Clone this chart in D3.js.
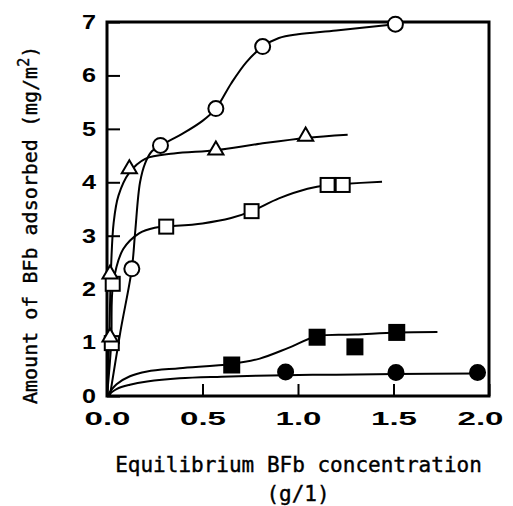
<!DOCTYPE html>
<html><head><meta charset="utf-8">
<script src="https://cdn.jsdelivr.net/npm/d3@7"></script>
<style>body{margin:0;background:#fff}svg{display:block}</style>
</head><body>
<svg id="c" width="513" height="506"></svg>
<script>
// ---- data ----
const xTicks = [0, 0.5, 1.0, 1.5, 2.0];
const yTicks = [0, 1, 2, 3, 4, 5, 6, 7];
const xTitle = "Equilibrium BFb concentration";
const xUnit = "(g/1)";
const yTitleMain = "Amount of BFb adsorbed  (mg/m";
const yTitleSup = "2";
const yTitleEnd = ")";

// markers [x, y]
const openCircles = [[0.13, 2.38], [0.28, 4.69], [0.57, 5.38], [0.815, 6.54], [1.51, 6.96]];
const openTriangles = [[0.016, 1.1], [0.016, 2.28], [0.117, 4.25], [0.57, 4.6], [1.04, 4.86]];
const openSquares = [[0.025, 0.99], [0.03, 2.1], [0.31, 3.17], [0.757, 3.46], [1.155, 3.95], [1.234, 3.95]];
const filledSquares = [[0.653, 0.58], [1.10, 1.10], [1.298, 0.92], [1.517, 1.19]];
const filledCircles = [[0.935, 0.45], [1.513, 0.44], [1.94, 0.44]];

// hand-drawn fit curves [x, y]
const openCircleFit = [[0.015, 0], [0.07, 1.2], [0.13, 2.38], [0.147, 3.05], [0.173, 4.0], [0.2, 4.36], [0.235, 4.58], [0.28, 4.69], [0.4, 4.92], [0.5, 5.15], [0.57, 5.38], [0.65, 5.85], [0.73, 6.25], [0.815, 6.54], [0.9, 6.7], [1.0, 6.77], [1.2, 6.84], [1.51, 6.96]];
const triangleFit = [[0, 0], [0.012, 1.1], [0.02, 2.28], [0.035, 3.25], [0.06, 3.75], [0.117, 4.18], [0.2, 4.44], [0.35, 4.54], [0.57, 4.6], [0.8, 4.72], [1.04, 4.83], [1.26, 4.89]];
const squareFit = [[0, 0], [0.022, 0.99], [0.032, 2.1], [0.085, 2.75], [0.17, 3.05], [0.25, 3.15], [0.31, 3.17], [0.5, 3.23], [0.65, 3.33], [0.757, 3.46], [0.9, 3.7], [1.05, 3.88], [1.155, 3.95], [1.234, 3.97], [1.44, 4.01]];
const filledSquareFit = [[0, 0], [0.05, 0.22], [0.12, 0.37], [0.21, 0.46], [0.38, 0.52], [0.653, 0.6], [0.8, 0.7], [0.95, 0.9], [1.10, 1.12], [1.3, 1.15], [1.517, 1.19], [1.73, 1.2]];
const filledCircleFit = [[0, 0], [0.05, 0.13], [0.12, 0.21], [0.21, 0.27], [0.38, 0.33], [0.6, 0.36], [0.935, 0.39], [1.2, 0.4], [1.513, 0.41], [1.94, 0.42]];

// ---- drawing ----
const svg = d3.select("#c");
const x = d3.scaleLinear().domain([0, 2]).range([107, 489]);
const y = d3.scaleLinear().domain([0, 7]).range([396, 22]);

const line = d3.line().x(d => x(d[0])).y(d => y(d[1])).curve(d3.curveCatmullRom.alpha(0.5));
const fits = [openCircleFit, triangleFit, squareFit, filledSquareFit, filledCircleFit];
svg.append("g").selectAll("path").data(fits).join("path")
  .attr("d", line).attr("fill", "none").attr("stroke", "#000").attr("stroke-width", 2);

// axes
const tickFont = "'Liberation Sans', Arial, sans-serif";
const gx = svg.append("g").attr("transform", "translate(0,396)")
  .call(d3.axisBottom(x).tickValues(xTicks).tickFormat(d3.format(".1f")).tickSize(-12).tickPadding(16));
const gy = svg.append("g").attr("transform", "translate(107,0)")
  .call(d3.axisLeft(y).tickValues(yTicks).tickFormat(d3.format("d")).tickSize(-13).tickPadding(11));
[gx, gy].forEach(g => {
  g.select(".domain").remove();
  g.selectAll("line").attr("stroke", "#000").attr("stroke-width", 2);
  g.selectAll("text").attr("fill", "#000").style("font-family", tickFont).style("font-weight", "bold");
});
gx.selectAll("text").style("font-size", "18px").attr("textLength", 46).attr("lengthAdjust", "spacingAndGlyphs")
  .attr("dx", d => d === 2 ? -9 : 0);
gy.selectAll("text").style("font-size", "20px").attr("textLength", 14).attr("lengthAdjust", "spacingAndGlyphs");

// frame
svg.append("rect").attr("x", x(0)).attr("y", y(7)).attr("width", x(2) - x(0)).attr("height", y(0) - y(7))
  .attr("fill", "none").attr("stroke", "#000").attr("stroke-width", 3);

// markers
const g = svg.append("g").attr("stroke", "#000").attr("stroke-width", 2);
const tri = d3.symbol().type(d3.symbolTriangle).size(100);
g.selectAll(".sq").data(openSquares).join("rect")
  .attr("x", d => x(d[0]) - 7).attr("y", d => y(d[1]) - 7).attr("width", 14).attr("height", 14).attr("fill", "#fff");
g.selectAll(".tr").data(openTriangles).join("path")
  .attr("d", tri).attr("transform", d => `translate(${x(d[0])},${y(d[1])})`).attr("fill", "#fff");
g.selectAll(".oc").data(openCircles).join("circle")
  .attr("cx", d => x(d[0])).attr("cy", d => y(d[1])).attr("r", 7.5).attr("fill", "#fff");
g.selectAll(".fs").data(filledSquares).join("rect")
  .attr("x", d => x(d[0]) - 7.5).attr("y", d => y(d[1]) - 7.5).attr("width", 15).attr("height", 15).attr("fill", "#000");
g.selectAll(".fc").data(filledCircles).join("circle")
  .attr("cx", d => x(d[0])).attr("cy", d => y(d[1])).attr("r", 7.5).attr("fill", "#000");

// titles
const titleFont = "'DejaVu Sans Mono', monospace";
function titleStyle(t, size) {
  return t.style("font-family", titleFont).style("font-size", size + "px")
    .attr("fill", "#000").attr("stroke", "#000").attr("stroke-width", 0.4);
}
titleStyle(svg.append("text").attr("x", 298.5).attr("y", 472).attr("text-anchor", "middle"), 21).text(xTitle);
titleStyle(svg.append("text").attr("x", 298).attr("y", 501).attr("text-anchor", "middle"), 21).text(xUnit);
const yt = titleStyle(svg.append("text").attr("transform", "translate(37,404) rotate(-90)").attr("text-anchor", "start"), 20);
yt.append("tspan").text(yTitleMain);
yt.append("tspan").attr("dy", -8).style("font-size", "15px").text(yTitleSup);
yt.append("tspan").attr("dy", 8).text(yTitleEnd);
</script>
</body></html>
